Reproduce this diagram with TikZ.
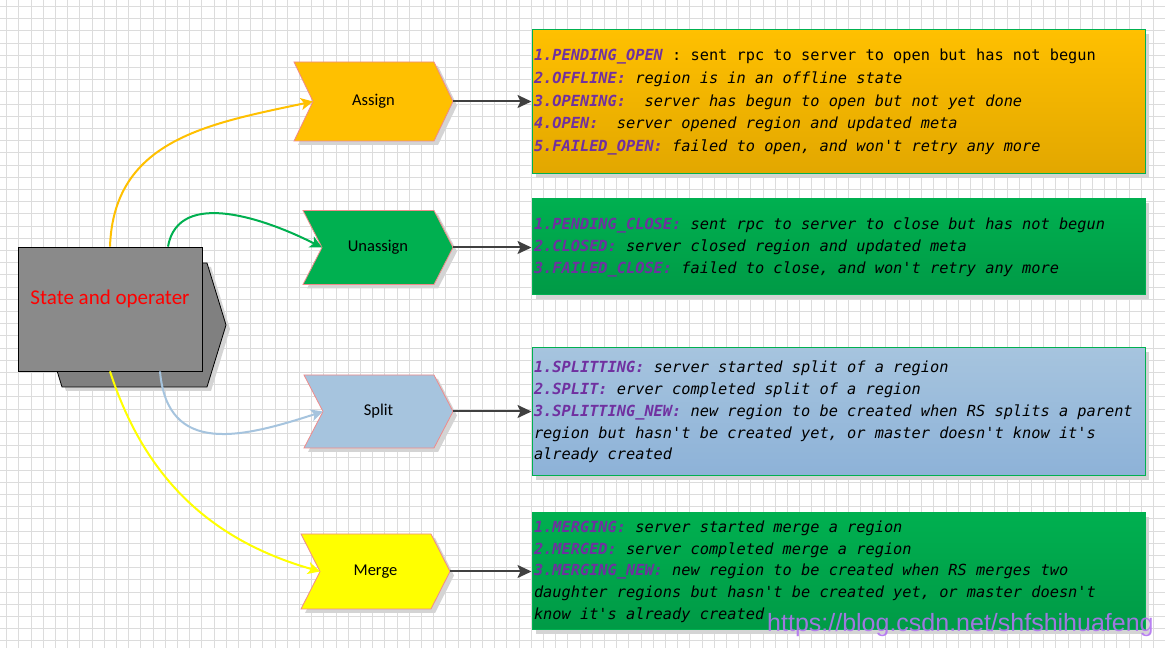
\documentclass[tikz,border=0pt]{standalone}
\usepackage{fontspec}
\usepackage{xcolor}
\usetikzlibrary{arrows.meta,shadows,calc}
\newfontfamily\listfont{DejaVu Sans Mono}
\newfontfamily\chevfont{Carlito}
\newfontfamily\wmfont{Liberation Sans}
\definecolor{gridgray}{HTML}{DCDCDC}
\definecolor{shadowgray}{HTML}{D4D4D4}
\definecolor{chevedge}{HTML}{F08A8A}
\definecolor{assigncol}{HTML}{FFC000}
\definecolor{unassigncol}{HTML}{00B050}
\definecolor{splitcol}{HTML}{A6C4DE}
\definecolor{mergecol}{HTML}{FFFF00}
\definecolor{orangedark}{HTML}{E2A700}
\definecolor{greendark}{HTML}{009A46}
\definecolor{bluedark}{HTML}{8DB2D8}
\definecolor{boxedge}{HTML}{00B050}
\definecolor{arrgray}{HTML}{404040}
\definecolor{frontgray}{HTML}{8A8A8A}
\definecolor{backgray}{HTML}{808080}
\definecolor{stpurple}{HTML}{7030A0}
\definecolor{statered}{HTML}{FF0000}
\definecolor{markpurple}{HTML}{B274F0}
\newcommand{\stlabel}[1]{\textcolor{stpurple}{\bfseries\itshape #1}}
\newcommand{\fixedspaces}{\spaceskip=0.602em\xspaceskip=0.602em\relax}
\tikzset{
  gridline/.style={draw=gridgray,line width=0.7pt},
  boxshadow/.style={drop shadow={shadow xshift=4pt,shadow yshift=-4pt,fill=shadowgray,opacity=1}},
  chevron/.style={draw=chevedge,line width=0.8pt,boxshadow},
  chevlabel/.style={font=\fontsize{16.5}{18}\selectfont\chevfont,inner sep=0pt},
  infobox/.style={draw=boxedge,line width=1pt,align=left,inner xsep=2pt,inner ysep=0pt,
                  text width=609pt,boxshadow,
                  font=\fontsize{15.3}{#1}\selectfont\listfont\itshape\frenchspacing},
  opback/.style={draw=black,fill=backgray,line width=0.8pt,boxshadow},
  opfront/.style={draw=black,fill=frontgray,line width=0.8pt,minimum width=184pt,
                  minimum height=124pt,inner sep=0pt},
  optext/.style={font=\fontsize{21}{24}\selectfont\chevfont,text=statered,inner sep=0pt},
  linkarr/.style={-{Stealth[length=14pt,width=13pt,inset=3pt]},draw=arrgray,line width=2pt},
  flowcurve/.style={-{Stealth[length=12pt,width=12pt,inset=3pt]},line width=2pt},
  watermark/.style={font=\fontsize{25}{27}\selectfont\wmfont,text=markpurple,
                    text opacity=0.9,inner sep=0pt}
}
\begin{document}
\begin{tikzpicture}[x=1pt,y=1pt]
  \useasboundingbox (0,0) rectangle (1165,648);
  \fill[white] (0,0) rectangle (1165,648);
  % grid paper
  \foreach \i in {0,...,94} \draw[gridline] ({6.5+12.2*\i},0) -- ++(0,648);
  \foreach \j in {0,...,52} \draw[gridline] (0,{641.7-12.2*\j}) -- ++(1165,0);

  % state block
  \draw[opback] (62,385) -- (207,385) -- (226,323) -- (207,261) -- (62,261) -- (43,323) -- cycle;
  \node[opfront] (state) at (110,339) {};
  \node[optext] (statetext) at ([yshift=10pt]state.center) {State and operater};

  % operations
  \draw[chevron,fill=assigncol] (294,586) -- (434,586) -- (453,546.5) -- (434,507) -- (294,507) -- (313,546.5) -- cycle;
  \node[chevlabel] (assign) at (373.5,546.5) {Assign};
  \coordinate (assignin) at (313,546.5);
  \coordinate (assignout) at (453,546.5);

  \draw[chevron,fill=unassigncol] (303,437.5) -- (434,437.5) -- (453,400.5) -- (434,363.5) -- (303,363.5) -- (322,400.5) -- cycle;
  \node[chevlabel] (unassign) at (378,400.5) {Unassign};
  \coordinate (unassignin) at (322,400.5);
  \coordinate (unassignout) at (453,400.5);

  \draw[chevron,fill=splitcol] (304,273) -- (434,273) -- (453,236.5) -- (434,200) -- (304,200) -- (323,236.5) -- cycle;
  \node[chevlabel] (split) at (378.5,236.5) {Split};
  \coordinate (splitin) at (323,236.5);
  \coordinate (splitout) at (453,236.5);

  \draw[chevron,fill=mergecol] (301,114) -- (431,114) -- (450,76.5) -- (431,39) -- (301,39) -- (320,76.5) -- cycle;
  \node[chevlabel] (merge) at (375.5,76.5) {Merge};
  \coordinate (mergein) at (320,76.5);
  \coordinate (mergeout) at (450,76.5);

  % state lists
  \node[infobox=22.9,top color=assigncol,bottom color=orangedark,minimum height=144pt]
    (openbox) at (838.5,546) {\fixedspaces
    \stlabel{1.PENDING\_OPEN} \textup{: sent rpc to server to open but has not begun}\\
    \stlabel{2.OFFLINE:} region is in an offline state\\
    \stlabel{3.OPENING:}~ server has begun to open but not yet done\\
    \stlabel{4.OPEN:}~ server opened region and updated meta\\
    \stlabel{5.FAILED\_OPEN:} failed to open, and won't retry any more};
  \node[infobox=22,top color=unassigncol,bottom color=greendark,minimum height=96pt]
    (closebox) at (838.5,401) {\fixedspaces
    \stlabel{1.PENDING\_CLOSE:} sent rpc to server to close but has not begun\\
    \stlabel{2.CLOSED:} server closed region and updated meta\\
    \stlabel{3.FAILED\_CLOSE:} failed to close, and won't retry any more};
  \node[infobox=21.8,top color=splitcol,bottom color=bluedark,minimum height=128pt]
    (splitbox) at (838.5,236) {\fixedspaces
    \stlabel{1.SPLITTING:} server started split of a region\\
    \stlabel{2.SPLIT:} erver completed split of a region\\
    \stlabel{3.SPLITTING\_NEW:} new region to be created when RS splits a parent\\
    region but hasn't be created yet, or master doesn't know it's\\
    already created};
  \node[infobox=21.7,top color=unassigncol,bottom color=greendark,minimum height=117pt]
    (mergebox) at (838.5,76.5) {\fixedspaces
    \stlabel{1.MERGING:} server started merge a region\\
    \stlabel{2.MERGED:} server completed merge a region\\
    \stlabel{3.MERGING\_NEW:} new region to be created when RS merges two\\
    daughter regions but hasn't be created yet, or master doesn't\\
    know it's already created};

  % links to the lists
  \draw[linkarr] (assignout) -- (assignout -| openbox.west);
  \draw[linkarr] (unassignout) -- (unassignout -| closebox.west);
  \draw[linkarr] (splitout) -- (splitout -| splitbox.west);
  \draw[linkarr] (mergeout) -- (mergeout -| mergebox.west);

  % curves from the state block
  \draw[flowcurve,draw=assigncol] (state.north) to[out=88,in=192,looseness=1.1] (assignin);
  \draw[flowcurve,draw=unassigncol] ([xshift=58pt]state.north) to[out=80,in=153] (unassignin);
  \draw[flowcurve,draw=splitcol] ([xshift=50pt]state.south) to[out=-85,in=198,looseness=1.3] (splitin);
  \draw[flowcurve,draw=mergecol] (state.south) to[out=-72,in=164] (mergein);

  \node[watermark,anchor=base west] (csdnmark) at (767,16) {https://blog.csdn.net/shfshihuafeng};
\end{tikzpicture}
\end{document}
